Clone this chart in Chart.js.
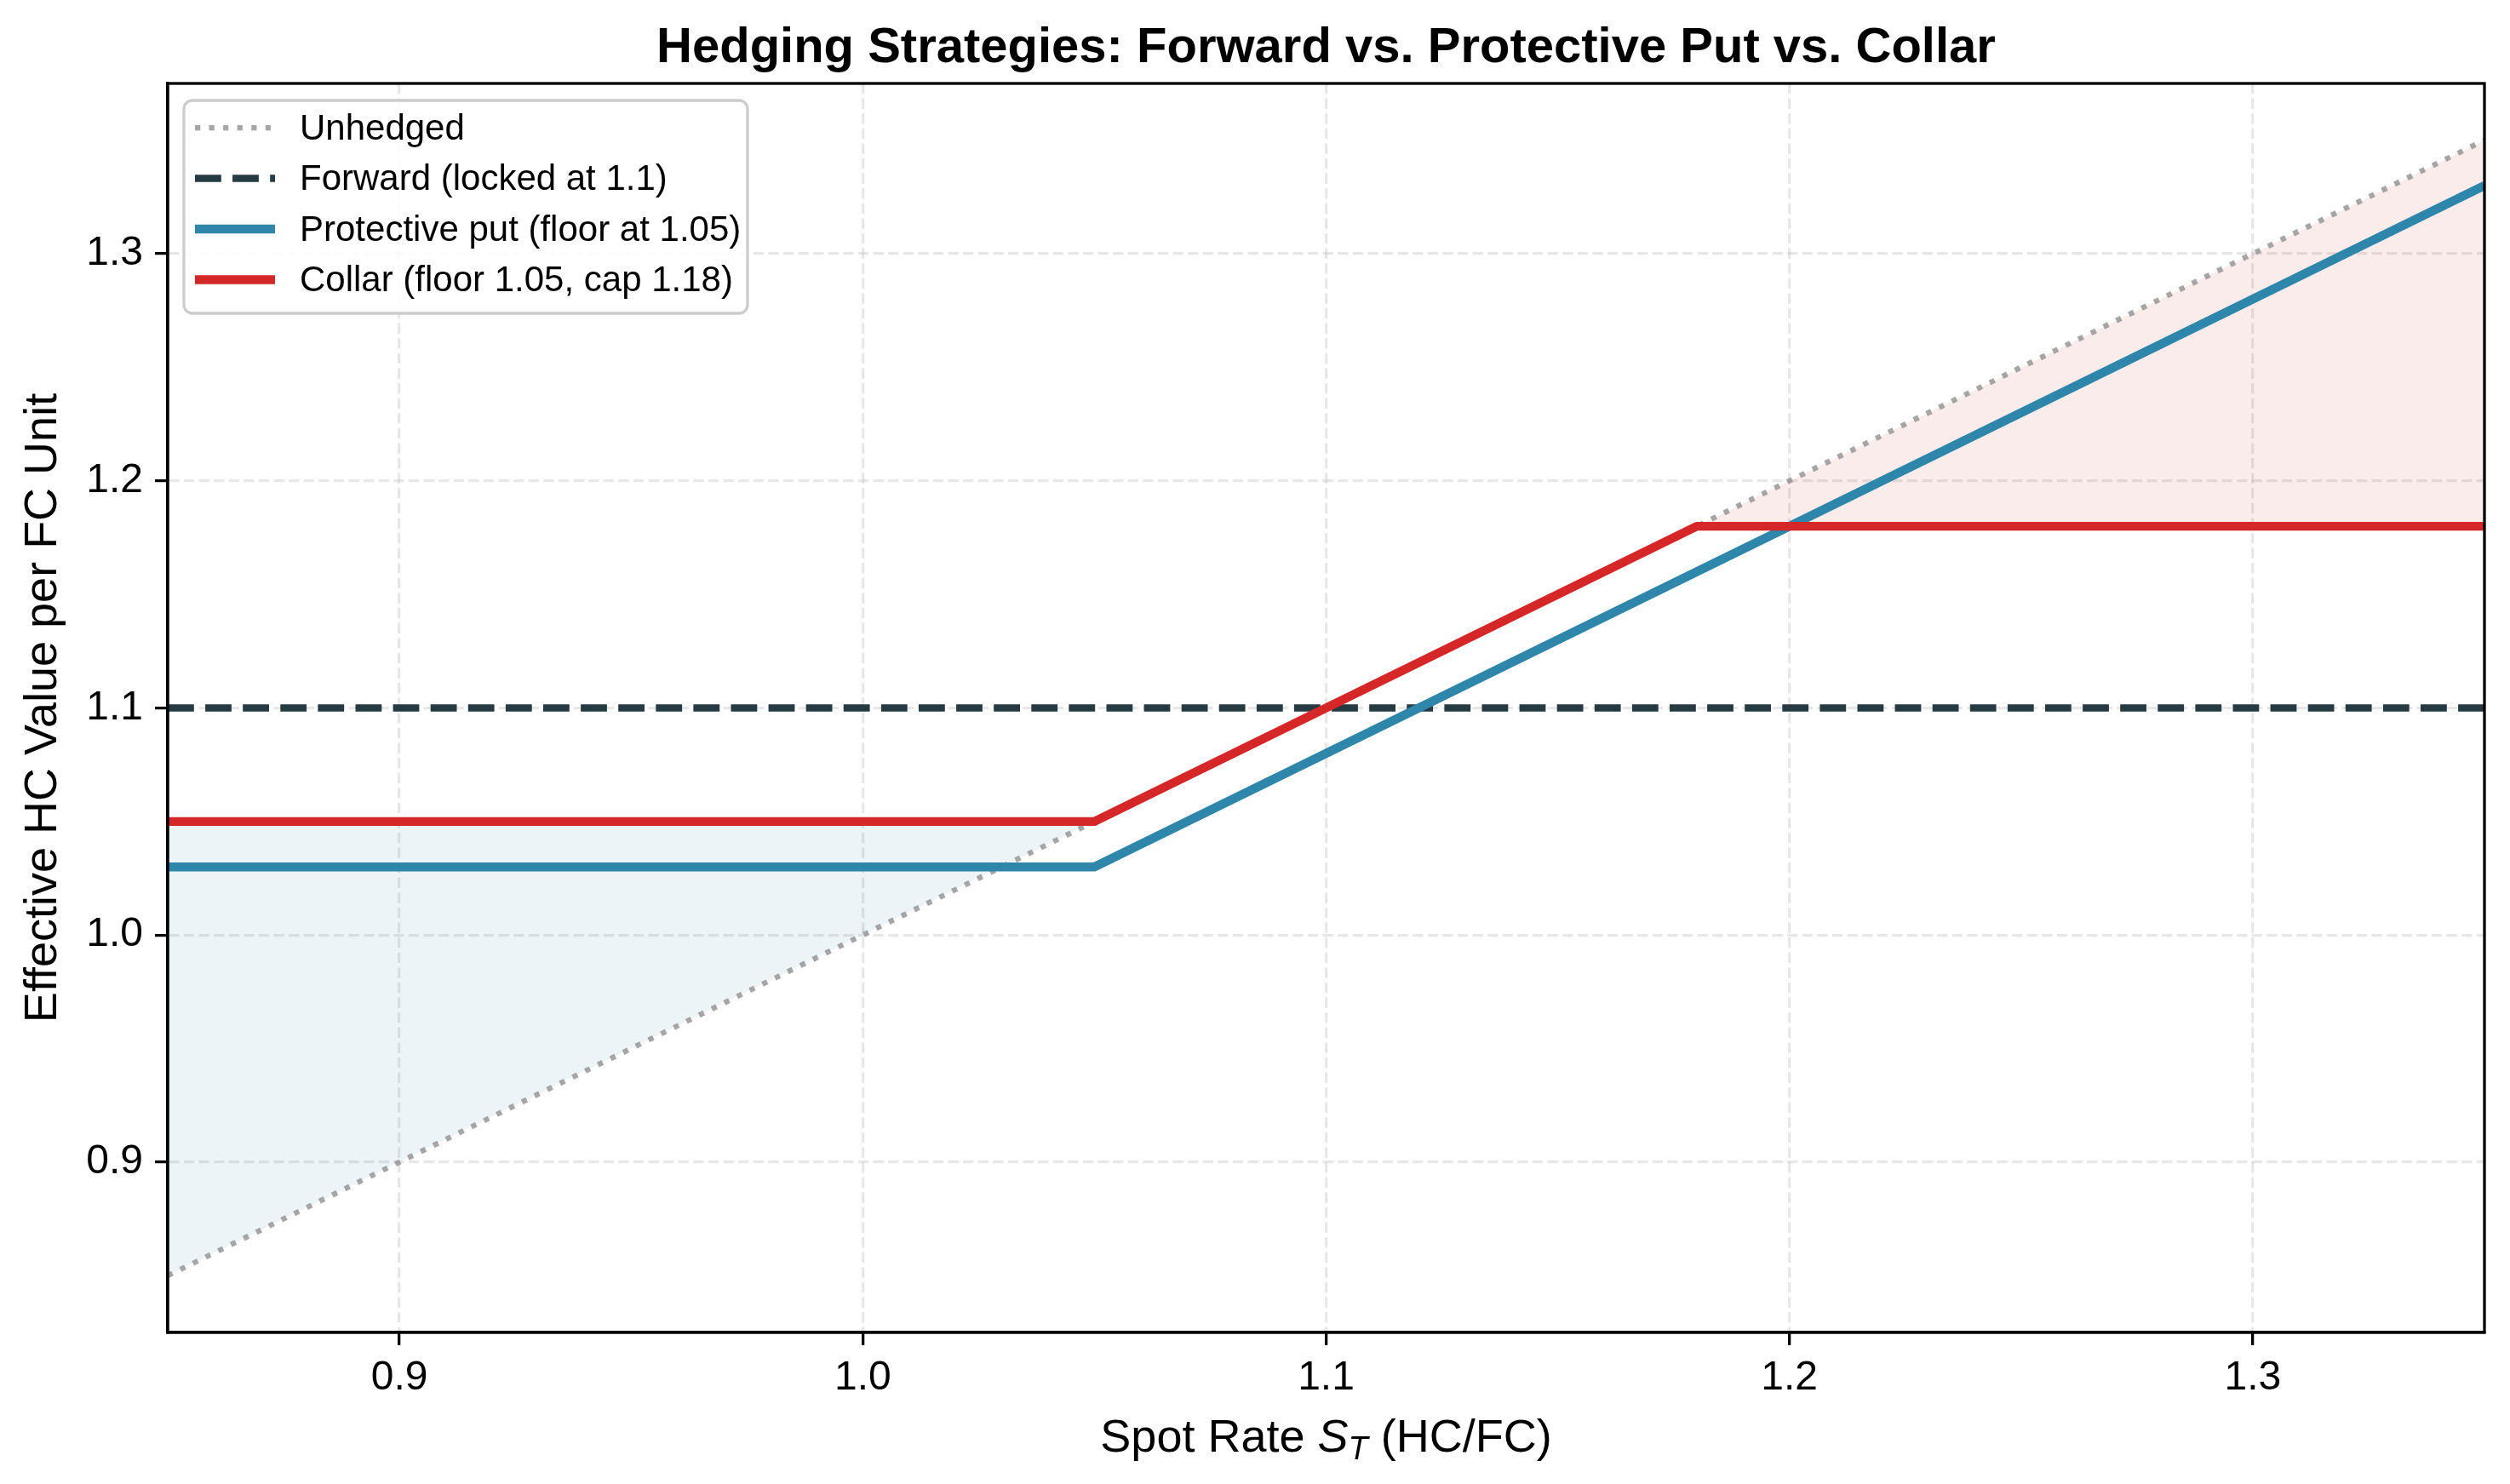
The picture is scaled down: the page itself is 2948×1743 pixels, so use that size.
<!DOCTYPE html>
<html>
<head>
<meta charset="utf-8">
<script src="https://cdn.jsdelivr.net/npm/chart.js@4.4.0/dist/chart.umd.min.js"></script>
<style>
  html, body { margin: 0; padding: 0; background: #fff; }
  canvas { display: block; }
</style>
</head>
<body>
<canvas id="myChart" width="2948" height="1743"></canvas>
<script>
/*-----data-----*/
var spotRate   = [0.85, 1.05, 1.18, 1.35];
var unhedged   = [0.85, 1.05, 1.18, 1.35];
var forward    = [1.10, 1.10, 1.10, 1.10];
var protPut    = [1.03, 1.03, 1.16, 1.33];
var collar     = [1.05, 1.05, 1.18, 1.18];
var seriesNames = ['Unhedged', 'Forward (locked at 1.1)', 'Protective put (floor at 1.05)', 'Collar (floor 1.05, cap 1.18)'];
var xTicks = [0.9, 1.0, 1.1, 1.2, 1.3];
var yTicks = [0.9, 1.0, 1.1, 1.2, 1.3];
var chartTitle = 'Hedging Strategies: Forward vs. Protective Put vs. Collar';

var FONT = '"Liberation Sans", Arial, Helvetica, sans-serif';

function pts(ys) {
    var out = [];
    for (var i = 0; i < spotRate.length; i++) {
        out.push({ x: spotRate[i], y: ys[i] });
    }
    return out;
}

/*------extra drawing: frame, titles, legend------*/
var extras = {
    id: 'extras',
    afterDraw: function(chart) {
        var ctx = chart.ctx;
        var a = chart.chartArea;
        ctx.save();
        // spines
        ctx.strokeStyle = '#000';
        ctx.lineWidth = 3.3;
        ctx.setLineDash([]);
        ctx.strokeRect(a.left, a.top, a.right - a.left, a.bottom - a.top);

        // title, centred over the axes
        ctx.fillStyle = '#000';
        ctx.textAlign = 'center';
        ctx.textBaseline = 'alphabetic';
        ctx.font = 'bold 58px ' + FONT;
        ctx.fillText(chartTitle, (a.left + a.right) / 2, a.top - 25);

        // x axis title with italic S_T
        ctx.textAlign = 'left';
        var fs = 54;
        var p1 = 'Spot Rate ', p2 = 'S', p3 = 'T', p4 = ' (HC/FC)';
        ctx.font = fs + 'px ' + FONT;
        var w1 = ctx.measureText(p1).width, w4 = ctx.measureText(p4).width;
        ctx.font = 'italic ' + fs + 'px ' + FONT;
        var w2 = ctx.measureText(p2).width;
        ctx.font = 'italic ' + Math.round(fs * 0.7) + 'px ' + FONT;
        var w3 = ctx.measureText(p3).width;
        var total = w1 + w2 + w3 + w4;
        var x = (a.left + a.right) / 2 - total / 2;
        var base = 1705;
        ctx.font = fs + 'px ' + FONT;
        ctx.fillText(p1, x, base); x += w1;
        ctx.font = 'italic ' + fs + 'px ' + FONT;
        ctx.fillText(p2, x, base); x += w2;
        ctx.font = 'italic ' + Math.round(fs * 0.7) + 'px ' + FONT;
        ctx.fillText(p3, x, base + 9); x += w3;
        ctx.font = fs + 'px ' + FONT;
        ctx.fillText(p4, x, base);

        // y axis title
        ctx.save();
        ctx.translate(51, (a.top + a.bottom) / 2);
        ctx.rotate(-Math.PI / 2);
        ctx.textAlign = 'center';
        ctx.textBaseline = 'middle';
        ctx.font = fs + 'px ' + FONT;
        ctx.fillText('Effective HC Value per FC Unit', 0, 0);
        ctx.restore();

        // legend
        var lx = a.left + 19, ly = a.top + 20, lw = 662, lh = 250, r = 10;
        ctx.beginPath();
        ctx.moveTo(lx + r, ly);
        ctx.lineTo(lx + lw - r, ly);
        ctx.arcTo(lx + lw, ly, lx + lw, ly + r, r);
        ctx.lineTo(lx + lw, ly + lh - r);
        ctx.arcTo(lx + lw, ly + lh, lx + lw - r, ly + lh, r);
        ctx.lineTo(lx + r, ly + lh);
        ctx.arcTo(lx, ly + lh, lx, ly + lh - r, r);
        ctx.lineTo(lx, ly + r);
        ctx.arcTo(lx, ly, lx + r, ly, r);
        ctx.closePath();
        ctx.fillStyle = 'rgba(255,255,255,0.85)';
        ctx.fill();
        ctx.strokeStyle = '#cccccc';
        ctx.lineWidth = 3.3;
        ctx.stroke();

        var ds = chart.data.datasets;
        for (var i = 0; i < ds.length; i++) {
            var yy = ly + 32 + i * 59.5;
            ctx.beginPath();
            ctx.strokeStyle = ds[i].borderColor;
            ctx.lineWidth = ds[i].borderWidth;
            ctx.lineCap = 'butt';
            ctx.setLineDash(ds[i].borderDash || []);
            ctx.moveTo(lx + 13, yy);
            ctx.lineTo(lx + 107, yy);
            ctx.stroke();
            ctx.setLineDash([]);
            ctx.fillStyle = '#000';
            ctx.font = '42px ' + FONT;
            ctx.textAlign = 'left';
            ctx.textBaseline = 'middle';
            ctx.fillText(ds[i].label, lx + 136, yy + 2);
        }
        ctx.restore();
    }
};

/*------chart---------*/
var ctx = document.getElementById('myChart').getContext('2d');
var myChart = new Chart(ctx, {
    type: 'line',
    data: {
        datasets: [{
            label: seriesNames[0],
            data: pts(unhedged),
            borderColor: 'rgba(150,150,150,0.85)',
            borderWidth: 6.25,
            borderDash: [6.25, 10.3],
            borderCapStyle: 'butt',
            pointRadius: 0,
            fill: false,
            order: 4
        }, {
            label: seriesNames[1],
            data: pts(forward),
            borderColor: '#263a42',
            borderWidth: 8.3,
            borderDash: [30.8, 13.3],
            borderCapStyle: 'butt',
            pointRadius: 0,
            fill: false,
            order: 3
        }, {
            label: seriesNames[2],
            data: pts(protPut),
            borderColor: '#2E86AB',
            borderWidth: 10.4,
            borderJoinStyle: 'round',
            pointRadius: 0,
            fill: false,
            order: 2
        }, {
            label: seriesNames[3],
            data: pts(collar),
            borderColor: '#D62728',
            borderWidth: 10.4,
            borderJoinStyle: 'round',
            pointRadius: 0,
            fill: { target: 0, above: 'rgba(46,134,171,0.09)', below: 'rgba(214,39,40,0.09)' },
            order: 1
        }]
    },
    options: {
        responsive: false,
        animation: false,
        devicePixelRatio: 1,
        layout: { padding: { left: 0, right: 30, top: 98, bottom: 0 } },
        plugins: {
            legend: { display: false },
            tooltip: { enabled: false },
            filler: { drawTime: 'beforeDatasetsDraw' },
            title: { display: false }
        },
        scales: {
            x: {
                type: 'linear',
                min: 0.85,
                max: 1.35,
                afterBuildTicks: function(scale) {
                    scale.ticks = xTicks.map(function(v) { return { value: v }; });
                },
                afterFit: function(scale) { scale.height = 178; },
                ticks: {
                    color: '#000',
                    font: { family: FONT, size: 48 },
                    padding: 10,
                    maxRotation: 0,
                    callback: function(v) { return v.toFixed(1); }
                },
                grid: {
                    color: 'rgba(176,176,176,0.3)',
                    lineWidth: 3.3,
                    drawTicks: true,
                    tickLength: 15,
                    tickColor: '#000',
                    tickWidth: 3.3,
                    tickBorderDash: [1, 0]
                },
                border: { display: true, color: '#000', width: 3.3, dash: [12.3, 5.3] }
            },
            y: {
                type: 'linear',
                min: 0.825,
                max: 1.375,
                afterBuildTicks: function(scale) {
                    scale.ticks = yTicks.map(function(v) { return { value: v }; });
                },
                afterFit: function(scale) { scale.width = 197; },
                ticks: {
                    color: '#000',
                    font: { family: FONT, size: 48 },
                    padding: 14,
                    callback: function(v) { return v.toFixed(1); }
                },
                grid: {
                    color: 'rgba(176,176,176,0.3)',
                    lineWidth: 3.3,
                    drawTicks: true,
                    tickLength: 15,
                    tickColor: '#000',
                    tickWidth: 3.3,
                    tickBorderDash: [1, 0]
                },
                border: { display: true, color: '#000', width: 3.3, dash: [12.3, 5.3] }
            }
        }
    },
    plugins: [extras]
});
</script>
</body>
</html>
